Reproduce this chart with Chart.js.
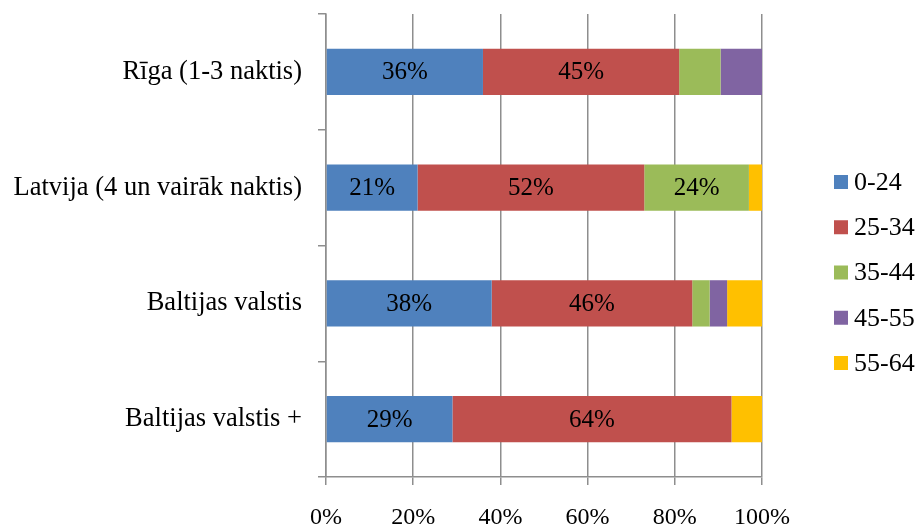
<!DOCTYPE html>
<html>
<head>
<meta charset="utf-8">
<script src="https://cdn.jsdelivr.net/npm/chart.js@4/dist/chart.umd.min.js"></script>
<style>
  html, body { margin: 0; padding: 0; background: #ffffff; }
  #wrap { width: 917px; height: 527px; }
</style>
</head>
<body>
<div id="wrap"><canvas id="c" width="917" height="527"></canvas></div>
<script>
// Nakšņu grupas un vecuma grupu sadalījums (%)
const categories = ['Rīga (1-3 naktis)', 'Latvija (4 un vairāk naktis)', 'Baltijas valstis', 'Baltijas valstis +'];
const ageGroups = ['0-24', '25-34', '35-44', '45-55', '55-64'];
const age0_24  = [36, 21, 38, 29];
const age25_34 = [45, 52, 46, 64];
const age35_44 = [9.5, 24, 4, 0];
const age45_55 = [9.5, 0, 4, 0];
const age55_64 = [0, 3, 8, 7];
const xTickValues = [0, 20, 40, 60, 80, 100];

const colors = ['#4F81BD', '#C0504D', '#9BBB59', '#8064A2', '#FFC000'];
const seriesValues = [age0_24, age25_34, age35_44, age45_55, age55_64];
const serif = "'Liberation Serif', 'Times New Roman', serif";
const gridGray = '#8e8e8e';

// Procentu uzraksti lielākajos segmentos
const segmentLabels = {
  id: 'segmentLabels',
  afterDatasetsDraw(chart) {
    const ctx = chart.ctx;
    ctx.save();
    ctx.font = '25px ' + serif;
    ctx.fillStyle = '#000000';
    ctx.textAlign = 'center';
    ctx.textBaseline = 'middle';
    chart.data.datasets.forEach((ds, i) => {
      const meta = chart.getDatasetMeta(i);
      meta.data.forEach((bar, j) => {
        const v = ds.data[j];
        if (v >= 15) {
          ctx.fillText(Math.round(v) + '%', (bar.x + bar.base) / 2, bar.y + 1);
        }
      });
    });
    ctx.restore();
  }
};

// Leģenda labajā pusē
const sideLegend = {
  id: 'sideLegend',
  afterDraw(chart) {
    const ctx = chart.ctx;
    ctx.save();
    ctx.font = '26px ' + serif;
    ctx.textAlign = 'left';
    ctx.textBaseline = 'middle';
    chart.data.datasets.forEach((ds, i) => {
      const cy = 182 + i * 45.25;
      ctx.fillStyle = ds.backgroundColor;
      ctx.fillRect(834, cy - 7, 14, 14);
      ctx.fillStyle = '#000000';
      ctx.fillText(ds.label, 854, cy + 1);
    });
    ctx.restore();
  }
};

new Chart(document.getElementById('c'), {
  type: 'bar',
  data: {
    labels: categories,
    datasets: ageGroups.map((g, i) => ({
      label: g,
      data: seriesValues[i],
      backgroundColor: colors[i],
      borderWidth: 0,
      barPercentage: 0.4,
      categoryPercentage: 1.0
    }))
  },
  options: {
    indexAxis: 'y',
    responsive: false,
    animation: false,
    devicePixelRatio: 1,
    layout: { padding: { top: 14, right: 155, left: 0, bottom: 0 } },
    plugins: {
      legend: { display: false },
      tooltip: { enabled: false }
    },
    scales: {
      x: {
        stacked: true,
        min: 0,
        max: 100,
        afterBuildTicks(scale) {
          scale.ticks = xTickValues.map(v => ({ value: v }));
        },
        afterFit(scale) {
          scale.height = 50;
          scale.paddingLeft = 0;
          scale.paddingRight = 0;
        },
        grid: {
          color: gridGray,
          lineWidth: 1.5,
          tickLength: 8,
          drawTicks: true
        },
        border: { color: gridGray, width: 1.5 },
        ticks: {
          color: '#000000',
          font: { family: serif, size: 24 },
          padding: 18,
          maxRotation: 0,
          callback: (v) => v + '%'
        }
      },
      y: {
        stacked: true,
        afterFit(scale) {
          scale.width = 326;
          scale.paddingTop = 0;
          scale.paddingBottom = 0;
        },
        grid: {
          drawOnChartArea: false,
          color: gridGray,
          lineWidth: 1.5,
          tickLength: 8,
          offset: true
        },
        border: { color: gridGray, width: 1.5 },
        ticks: {
          color: '#000000',
          font: { family: serif, size: 26.5 },
          padding: 16
        }
      }
    }
  },
  plugins: [segmentLabels, sideLegend]
});
</script>
</body>
</html>
